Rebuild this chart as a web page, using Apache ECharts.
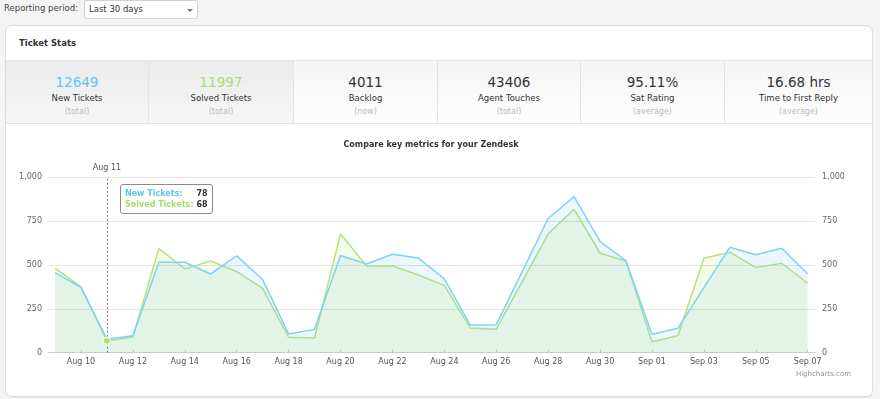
<!DOCTYPE html>
<html lang="en">

<head>
    <meta charset="UTF-8" />
    <script src="https://cdn.jsdelivr.net/npm/echarts@6/dist/echarts.min.js"></script>
    <title>Ticket Stats</title>
    <style>
        body { margin: 0; width: 880px; height: 399px; overflow: hidden; background: #f4f4f4;
               font-family: "DejaVu Sans", sans-serif; color: #333; position: relative; }
        .period { position: absolute; left: 4px; top: 3px; font-size: 8.5px; color: #444; }
        .select { position: absolute; left: 84px; top: 0; width: 108px; height: 17px; border: 1px solid #d2d2d2;
                  background: #fff; border-radius: 2px; font-size: 8.5px; line-height: 17px; padding-left: 4px; box-sizing: content-box; }
        .select .arrow { position: absolute; left: 102px; top: 8px; width: 0; height: 0;
                         border-left: 3px solid transparent; border-right: 3px solid transparent; border-top: 3px solid #777; }
        .panel { position: absolute; left: 5px; top: 25px; width: 866px; height: 370px; border: 1px solid #dcdcdc;
                 border-radius: 7px; background: #fff; box-shadow: 0 1px 1px rgba(0,0,0,0.04); }
        .panel h3 { position: absolute; left: 13px; top: 12px; margin: 0; font-size: 8.5px; font-weight: bold; color: #333; }
        .stats { position: absolute; left: 0; top: 34px; width: 866px; height: 62px; border-top: 1px solid #e6e6e6;
                 border-bottom: 1px solid #e3e3e3; display: flex; }
        .cell { height: 62px; border-right: 1px solid #e3e3e3; text-align: center; box-sizing: border-box;
                background: linear-gradient(#f5f5f5, #fdfdfd); }
        .cell:last-child { border-right: none; }
        .cell.sel { background: linear-gradient(#ebebeb, #f6f6f6); }
        .cell .num { font-size: 13.5px; margin-top: 13px; height: 17px; line-height: 17px; color: #333; }
        .cell .lbl { font-size: 8.5px; margin-top: 2px; line-height: 11px; color: #333; }
        .cell .sub { font-size: 8px; line-height: 11px; margin-top: 2px; color: #bbb; }
        #chart { position: absolute; left: 0; top: 0; width: 880px; height: 399px; z-index: 2; }
    </style>
</head>

<body>
    <div class="period">Reporting period:</div>
    <div class="select">Last 30 days<span class="arrow"></span></div>
    <div class="panel">
        <h3>Ticket Stats</h3>
        <div class="stats">
            <div class="cell sel" style="width:143px"><div class="num" style="color:#5bc7f4">12649</div><div class="lbl">New Tickets</div><div class="sub">(total)</div></div>
            <div class="cell sel" style="width:145px"><div class="num" style="color:#a9de6e">11997</div><div class="lbl">Solved Tickets</div><div class="sub">(total)</div></div>
            <div class="cell" style="width:144px"><div class="num">4011</div><div class="lbl">Backlog</div><div class="sub">(now)</div></div>
            <div class="cell" style="width:143px"><div class="num">43406</div><div class="lbl">Agent Touches</div><div class="sub">(total)</div></div>
            <div class="cell" style="width:144px"><div class="num">95.11%</div><div class="lbl">Sat Rating</div><div class="sub">(average)</div></div>
            <div class="cell" style="width:147px"><div class="num">16.68 hrs</div><div class="lbl">Time to First Reply</div><div class="sub">(average)</div></div>
        </div>
    </div>
    <div id="chart"></div>

    <script>
        // daily values, Aug 09 - Sep 07
        var days = ["Aug 09", "Aug 10", "Aug 11", "Aug 12", "Aug 13", "Aug 14", "Aug 15", "Aug 16", "Aug 17", "Aug 18",
            "Aug 19", "Aug 20", "Aug 21", "Aug 22", "Aug 23", "Aug 24", "Aug 25", "Aug 26", "Aug 27", "Aug 28",
            "Aug 29", "Aug 30", "Aug 31", "Sep 01", "Sep 02", "Sep 03", "Sep 04", "Sep 05", "Sep 06", "Sep 07"];
        var newTickets = [457, 372, 78, 97, 516, 516, 449, 552, 417, 107, 133, 554, 506, 561, 540, 421, 158, 160, 462, 765,
            890, 634, 523, 105, 139, 371, 601, 558, 596, 449];
        var solvedTickets = [482, 375, 68, 90, 594, 478, 523, 462, 367, 88, 84, 678, 495, 495, 443, 384, 141, 133, 405, 678,
            818, 567, 523, 63, 97, 539, 573, 485, 510, 396];
        var yTicks = [0, 250, 500, 750, 1000];
        var hoverIndex = 2; // Aug 11

        var font = "DejaVu Sans";
        var blue = "#7dd2f6";
        var green = "#b5e380";

        function fmt(v) { return v.toLocaleString("en-US"); }

        var myChart = echarts.init(document.getElementById("chart"));
        var option = {
            backgroundColor: "transparent",
            animation: false,
            textStyle: { fontFamily: font },
            title: {
                text: "Compare key metrics for your Zendesk",
                left: 431, top: 141, padding: 0, textAlign: "center",
                textStyle: { fontSize: 8, fontWeight: "bold", color: "#333", fontFamily: font }
            },
            graphic: [{
                type: "text", right: 29, top: 371,
                style: { text: "Highcharts.com", fill: "#909090", font: "7px DejaVu Sans" }
            }],
            grid: [
                { left: 48, right: 65, top: 177.3, bottom: 46.3 },
                { left: 55, right: 72.3, top: 177.3, bottom: 46.3 }
            ],
            xAxis: [
                {
                    gridIndex: 0, type: "value", min: 0, max: 1,
                    axisLine: { show: true, lineStyle: { color: "#d0d0d0" } },
                    axisTick: { show: false }, axisLabel: { show: false }, splitLine: { show: false }
                },
                {
                    gridIndex: 1, type: "category", data: days, boundaryGap: false,
                    axisLine: { show: false },
                    axisTick: { show: true, inside: true, length: 3, interval: function (i) { return i % 2 === 1; },
                        lineStyle: { color: "#d0d0d0" } },
                    axisLabel: { interval: function (i) { return i % 2 === 1; }, fontSize: 8, color: "#555", margin: 5 },
                    splitLine: { show: false }
                }
            ],
            yAxis: [
                {
                    gridIndex: 0, type: "value", min: yTicks[0], max: yTicks[yTicks.length - 1], interval: 250,
                    axisLine: { show: false }, axisTick: { show: false },
                    axisLabel: { fontSize: 8, color: "#666", margin: 6, formatter: fmt },
                    splitLine: { lineStyle: { color: "#e4e4e4" } }
                },
                {
                    gridIndex: 0, type: "value", position: "right", min: yTicks[0], max: yTicks[yTicks.length - 1], interval: 250,
                    axisLine: { show: false }, axisTick: { show: false },
                    axisLabel: { fontSize: 8, color: "#666", margin: 7, formatter: fmt },
                    splitLine: { show: false }
                },
                {
                    gridIndex: 1, type: "value", min: 0, max: 1000, show: false
                }
            ],
            tooltip: {
                trigger: "axis",
                triggerOn: "none",
                alwaysShowContent: true,
                transitionDuration: 0,
                axisPointer: { type: "none" },
                position: [120, 184],
                padding: [3, 4],
                backgroundColor: "rgba(255,255,255,0.9)",
                borderColor: "#8a8a8a",
                borderWidth: 1.5,
                borderRadius: 3,
                extraCssText: "box-shadow:none;",
                formatter: function () {
                    var i = hoverIndex;
                    var td = "padding:0;line-height:11px;";
                    return '<table style="border-collapse:collapse;font:bold 8px DejaVu Sans;">' +
                        '<tr><td style="' + td + 'color:#5cc6f2">New Tickets:</td><td style="' + td + 'text-align:right;color:#333;padding-left:3px">' + newTickets[i] + '</td></tr>' +
                        '<tr><td style="' + td + 'color:#a6dc6a">Solved Tickets:</td><td style="' + td + 'text-align:right;color:#333;padding-left:3px">' + solvedTickets[i] + '</td></tr>' +
                        '</table>';
                }
            },
            series: [
                {
                    name: "Solved Tickets", type: "line", xAxisIndex: 1, yAxisIndex: 2,
                    data: solvedTickets,
                    symbol: "none",
                    lineStyle: { color: green, width: 1.5 },
                    areaStyle: { color: "rgba(165,220,45,0.17)" },
                    emphasis: { disabled: true },
                    z: 3,
                    markLine: {
                        silent: true, symbol: "none",
                        lineStyle: { color: "#777", type: [2, 2], width: 1 },
                        label: { position: "end", formatter: "Aug 11", fontSize: 8, color: "#555", distance: 5 },
                        data: [{ xAxis: days[hoverIndex] }]
                    }
                },
                {
                    name: "New Tickets", type: "line", xAxisIndex: 1, yAxisIndex: 2,
                    data: newTickets,
                    symbol: "none",
                    lineStyle: { color: blue, width: 1.5 },
                    areaStyle: { color: "rgba(95,190,235,0.17)" },
                    emphasis: { disabled: true },
                    z: 4,
                    // hover marker of the solved series, drawn on top
                    markPoint: {
                        silent: true, symbol: "circle", symbolSize: 7,
                        itemStyle: { color: "#b0df72", borderColor: "#fff", borderWidth: 1 },
                        label: { show: false },
                        data: [{ coord: [days[hoverIndex], solvedTickets[hoverIndex]] }]
                    }
                }
            ]
        };
        myChart.setOption(option);
        myChart.dispatchAction({ type: "showTip", seriesIndex: 1, dataIndex: hoverIndex });
    </script>
</body>

</html>
